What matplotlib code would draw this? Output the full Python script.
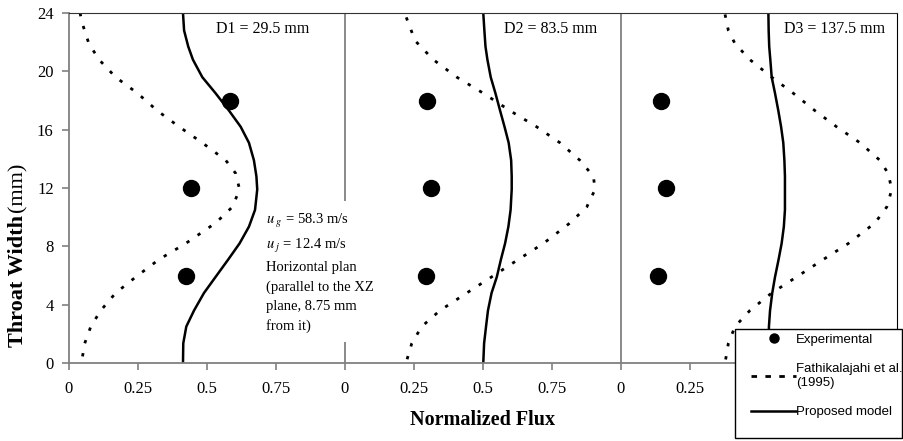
import matplotlib
matplotlib.use("Agg")
import matplotlib.pyplot as plt
from matplotlib.lines import Line2D
from matplotlib.patches import Rectangle
from matplotlib.legend_handler import HandlerLine2D

# ================= DATA =================
PANEL_LABELS = ["D1 = 29.5 mm", "D2 = 83.5 mm", "D3 = 137.5 mm"]
PANEL_LABEL_X = [0.70, 0.746, 0.775]

EXP_Y = [6, 12, 18]
EXP_X = [
    [0.423, 0.443, 0.583],
    [0.293, 0.310, 0.296],
    [0.133, 0.164, 0.146],
]

# Fathikalajahi et al. (1995), read top to bottom
FATHI_Y = [
    [24.0, 23.3, 21.9, 20.8, 19.6, 18.5, 17.3, 16.2, 15.1, 13.9, 13.0, 11.9, 10.7, 9.6, 8.2, 7.1, 5.9, 4.8, 3.6, 2.5, 1.35, 0],
    [23.7, 23.5, 22.1, 20.8, 19.6, 18.5, 17.3, 16.2, 15.1, 13.9, 12.8, 11.9, 10.7, 9.6, 8.2, 7.1, 5.9, 4.8, 3.6, 2.5, 1.35, 0],
    [23.9, 22.8, 21.9, 20.8, 19.6, 18.5, 17.3, 16.2, 15.1, 13.9, 13.0, 11.9, 10.7, 9.6, 8.2, 7.1, 5.9, 4.8, 3.6, 2.5, 1.35, 0],
]
FATHI_X = [
    [0.040, 0.048, 0.072, 0.109, 0.169, 0.248, 0.320, 0.399, 0.483, 0.568, 0.604, 0.618, 0.592, 0.531,
     0.423, 0.326, 0.242, 0.169, 0.115, 0.079, 0.057, 0.045],
    [0.222, 0.226, 0.254, 0.320, 0.405, 0.501, 0.598, 0.694, 0.779, 0.851, 0.900, 0.906, 0.876, 0.815,
     0.719, 0.628, 0.531, 0.441, 0.344, 0.278, 0.242, 0.221],
    [0.377, 0.389, 0.413, 0.467, 0.546, 0.624, 0.703, 0.781, 0.866, 0.938, 0.968, 0.981, 0.963, 0.920,
     0.824, 0.733, 0.636, 0.546, 0.467, 0.413, 0.389, 0.377],
]

# Proposed model, read top to bottom
MODEL_Y = [24.0, 22.8, 21.7, 20.8, 19.6, 18.5, 17.3, 16.2, 15.1, 13.9, 12.8, 11.9, 10.5, 9.35,
           8.2, 7.1, 5.9, 4.8, 3.6, 2.5, 1.35, 0]
MODEL_X = [
    [0.413, 0.417, 0.432, 0.449, 0.483, 0.531, 0.580, 0.622, 0.652, 0.670, 0.679, 0.682, 0.674, 0.652,
     0.618, 0.577, 0.531, 0.489, 0.453, 0.425, 0.414, 0.413],
    [0.501, 0.505, 0.509, 0.516, 0.528, 0.545, 0.562, 0.578, 0.593, 0.602, 0.604, 0.604, 0.600, 0.592,
     0.580, 0.565, 0.550, 0.531, 0.518, 0.511, 0.504, 0.501],
    [0.534, 0.535, 0.537, 0.541, 0.546, 0.558, 0.570, 0.580, 0.588, 0.592, 0.594, 0.594, 0.594, 0.590,
     0.582, 0.571, 0.558, 0.548, 0.540, 0.536, 0.535, 0.534],
]

X_TICKS = [0, 0.25, 0.5, 0.75]
X_TICK_LABELS = ["0", "0.25", "0.5", "0.75"]
Y_TICKS = [0, 4, 8, 12, 16, 20, 24]

NOTE = ("$u_{\\ g}$ = 58.3 m/s\n$u_{\\ j}$ = 12.4 m/s\nHorizontal plan\n"
        "(parallel to the XZ\nplane, 8.75 mm\nfrom it)")

# ================= STYLE =================
plt.rcParams["font.family"] = ["Liberation Serif", "DejaVu Serif"]
plt.rcParams["mathtext.fontset"] = "stix"
GRAY = "#808080"
DOTS = (0, (1.2, 3.6))

fig = plt.figure(figsize=(9.04, 4.41), dpi=100)
ax = fig.add_axes([69 / 904, 78 / 441, 828 / 904, 350 / 441])

for i in range(3):
    ax.plot([x + i for x in FATHI_X[i]], FATHI_Y[i], color="black", lw=2.0, ls=DOTS)
    ax.plot([x + i for x in MODEL_X[i]], MODEL_Y, color="black", lw=1.8)
    ax.plot([x + i for x in EXP_X[i]], EXP_Y, "o", color="black", ms=11.5, ls="none")
    ax.text(PANEL_LABEL_X[i] + i, 22.9, PANEL_LABELS[i], fontsize=11.5,
            ha="center", va="center")

for i in (1, 2):
    ax.axvline(i, color=GRAY, lw=1.3, zorder=1)

ax.text(0.715, 10.35, NOTE, fontsize=10.5, ha="left", va="top", linespacing=1.6,
        zorder=3, bbox=dict(facecolor="white", edgecolor="none", pad=6))

# tick labels of the last panel under the legend box stay blank
tick_labels = X_TICK_LABELS * 2 + X_TICK_LABELS[:2] + ["", ""]

ax.set_xlim(0, 3)
ax.set_ylim(0, 24)
ax.set_xticks([t + i for i in range(3) for t in X_TICKS])
ax.set_xticklabels(tick_labels, fontsize=12)
ax.set_yticks(Y_TICKS)
ax.set_yticklabels([str(t) for t in Y_TICKS], fontsize=12)
ax.tick_params(axis="both", direction="out", length=5, width=1.2, color=GRAY)
ax.tick_params(axis="x", pad=8)
ax.tick_params(axis="y", pad=6)

ax.spines["left"].set_color(GRAY)
ax.spines["bottom"].set_color(GRAY)
ax.spines["left"].set_linewidth(1.3)
ax.spines["bottom"].set_linewidth(1.3)
ax.spines["top"].set_color("#333333")
ax.spines["right"].set_color("black")

fig.text(483 / 904, 1 - 420 / 441, "Normalized Flux", fontsize=14.5,
         fontweight="bold", ha="center", va="center")
fig.text(18 / 904, 1 - 215 / 441, "Throat Width", fontsize=16, fontweight="bold",
         rotation=90, ha="center", va="top")
fig.text(18 / 904, 1 - 212 / 441, "(mm)", fontsize=16, rotation=90,
         ha="center", va="bottom")

# legend box (taller than the entries, as in the original)
fig.add_artist(Rectangle((735 / 904, 1 - 438 / 441), 167 / 904, 109 / 441,
                         transform=fig.transFigure, facecolor="white",
                         edgecolor="black", lw=1.0, zorder=4))

handles = [
    Line2D([], [], marker="o", color="black", ls="none", ms=6.5),
    Line2D([], [], color="black", lw=2.0, ls=(0, (2, 3))),
    Line2D([], [], color="black", lw=1.8),
]
labels = ["Experimental", "Fathikalajahi et al.\n(1995)", "Proposed model"]
leg = fig.legend(handles, labels, loc="upper left",
                 bbox_to_anchor=(735 / 904, 1 - 329 / 441),
                 prop={"family": "Liberation Sans", "size": 9.5},
                 frameon=False, handlelength=4.25, handletextpad=0.05,
                 labelspacing=1.3, borderpad=0.35, borderaxespad=0,
                 handler_map={Line2D: HandlerLine2D(xpad=0.9)})
leg.set_zorder(5)

fig.savefig("out.png", dpi=100)
